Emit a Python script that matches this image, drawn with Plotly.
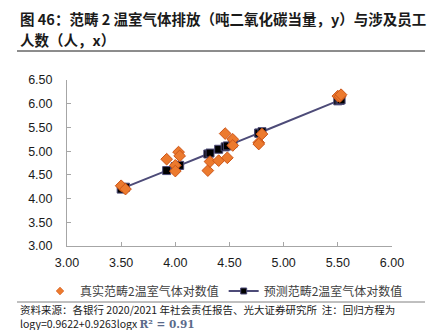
import plotly.graph_objects as go

# Data (log scale values)
log_staff = [3.50, 3.54, 3.92, 4.00, 4.00, 4.03, 4.04, 4.30, 4.32, 4.40,
             4.46, 4.48, 4.53, 4.53, 4.77, 4.77, 4.80, 5.50, 5.52, 5.53]
real_log_emission = [4.27, 4.20, 4.83, 4.70, 4.58, 4.98, 4.90, 4.59, 4.78, 4.80,
                     5.37, 4.86, 5.25, 5.12, 5.18, 5.15, 5.36, 6.16, 6.15, 6.19]
pred_log_emission = [4.20, 4.24, 4.59, 4.67, 4.67, 4.70, 4.70, 4.94, 4.96, 5.04,
                     5.09, 5.11, 5.16, 5.16, 5.38, 5.38, 5.41, 6.06, 6.07, 6.08]

x_ticks = [3.0, 3.5, 4.0, 4.5, 5.0, 5.5, 6.0]
y_ticks = [3.0, 3.5, 4.0, 4.5, 5.0, 5.5, 6.0, 6.5]

title_lines = ["图 46：范畴 2 温室气体排放（吨二氧化碳当量，y）与涉及员工", "人数（人，x）"]
series_names = ["真实范畴2温室气体对数值", "预测范畴2温室气体对数值"]
source_line1 = "资料来源：各银行 2020/2021 年社会责任报告、光大证券研究所  注：回归方程为"
source_line2 = "logy=0.9622+0.9263logx "
r2_text = "R² = 0.91"

W, H = 435, 330
L, R, T, B = 67, 43, 80, 84
PW, PH = W - L - R, H - T - B

def px(x):
    return (x - L) / PW

def py(y):
    return (H - B - y) / PH

CJK = "Noto Sans CJK SC"
ORANGE, ORANGE_EDGE = "#ec7a2e", "#cc5518"
NAVY = "#4d4b78"

fig = go.Figure()
# data traces (legend handled by legend-only entries below)
fig.add_trace(go.Scatter(
    x=log_staff, y=pred_log_emission, name=series_names[1], mode="lines+markers",
    line=dict(color=NAVY, width=2),
    marker=dict(symbol="square", size=8, color="#000000", line=dict(color=NAVY, width=1)),
    showlegend=False,
))
fig.add_trace(go.Scatter(
    x=log_staff, y=real_log_emission, name=series_names[0], mode="markers",
    marker=dict(symbol="diamond", size=9, color=ORANGE, line=dict(color=ORANGE_EDGE, width=1)),
    showlegend=False,
))
# legend entries with smaller symbols, like the reference
fig.add_trace(go.Scatter(
    x=[None], y=[None], name=series_names[0], mode="markers",
    marker=dict(symbol="diamond", size=6, color=ORANGE, line=dict(color=ORANGE_EDGE, width=0.5)),
    legendrank=1,
))
fig.add_trace(go.Scatter(
    x=[None], y=[None], name=series_names[1], mode="lines+markers",
    line=dict(color=NAVY, width=2),
    marker=dict(symbol="square", size=6, color="#000000", line=dict(color=NAVY, width=1)),
    legendrank=2,
))

axis_common = dict(
    showgrid=False, zeroline=False, showline=True, linecolor="#a6a6a6", linewidth=1,
    ticks="inside", ticklen=4, tickcolor="#a6a6a6", tickformat=".2f",
    tickfont=dict(family="Liberation Sans, Arial", size=12.5, color="#1a1a1a"),
)
fig.update_xaxes(range=[3, 6], tickvals=x_ticks, ticklabelstandoff=5, **axis_common)
fig.update_yaxes(range=[3, 6.5], tickvals=y_ticks, ticklabelstandoff=11, **axis_common)

annotations = [
    dict(text=title_lines[0], x=px(18), y=py(18)),
    dict(text=title_lines[1], x=px(18), y=py(40)),
]
for a in annotations:
    a.update(xref="paper", yref="paper", xanchor="left", yanchor="middle", showarrow=False,
             font=dict(family=CJK, size=14.5, color="#1a1a1a", weight="bold"))
source_text = (source_line1 + "<br>" + source_line2 +
               "<span style='font-family:DejaVu Serif; color:#5a6a8a; font-weight:bold'>" + r2_text + "</span>")
annotations.append(
    dict(text=source_text, x=px(18), y=py(316), xref="paper", yref="paper", xanchor="left",
         yanchor="middle", align="left", showarrow=False,
         font=dict(family=CJK, size=10.5, color="#1a1a1a"))
)

shapes = [
    dict(type="line", xref="paper", yref="paper", x0=px(17), x1=px(425), y0=py(51), y1=py(51),
         line=dict(color="#1a1a1a", width=1)),
    dict(type="line", xref="paper", yref="paper", x0=px(17), x1=px(425), y0=py(302), y1=py(302),
         line=dict(color="#808080", width=1)),
]

fig.update_layout(
    width=W, height=H, margin=dict(l=L, r=R, t=T, b=B),
    paper_bgcolor="white", plot_bgcolor="white",
    showlegend=True,
    legend=dict(orientation="h", x=px(40), y=py(291), xanchor="left", yanchor="middle",
                font=dict(family=CJK, size=12, color="#404040"), bgcolor="rgba(0,0,0,0)",
                itemwidth=30, tracegroupgap=0),
    annotations=annotations, shapes=shapes,
)

fig.write_html("out.html")
